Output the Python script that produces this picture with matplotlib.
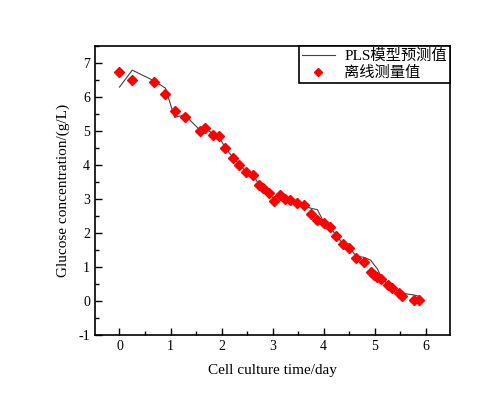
import matplotlib
matplotlib.use('Agg')
import matplotlib.pyplot as plt
from matplotlib.ticker import MultipleLocator

plt.rcParams['font.family'] = ['Liberation Serif', 'Noto Sans CJK SC']
plt.rcParams['axes.unicode_minus'] = False

# tiempos de muestreo (dia)
tiempo = [0, 0.25, 0.67, 0.9, 1.08, 1.28, 1.58, 1.68, 1.83, 1.95, 2.07, 2.22,
          2.35, 2.48, 2.62, 2.73, 2.82, 2.93, 3.03, 3.14, 3.24, 3.35, 3.48, 3.61,
          3.76, 3.88, 4.01, 4.13, 4.25, 4.38, 4.50, 4.64, 4.79, 4.93, 4.98, 5.05,
          5.13, 5.26, 5.34, 5.48, 5.53, 5.77, 5.88]

# valores medidos fuera de linea (g/L)
medido = [6.74, 6.50, 6.44, 6.09, 5.59, 5.40, 4.99, 5.10, 4.89, 4.85, 4.50, 4.21,
          4.01, 3.79, 3.71, 3.41, 3.31, 3.18, 2.93, 3.10, 3.01, 2.96, 2.88, 2.82,
          2.56, 2.39, 2.28, 2.16, 1.91, 1.66, 1.56, 1.27, 1.13, 0.84, 0.77, 0.69,
          0.64, 0.46, 0.37, 0.24, 0.14, 0.02, 0.02]

# prediccion del modelo PLS
pls = [6.29, 6.79, 6.48, 6.26, 5.40, 5.47, 5.02, 5.08, 4.92, 4.82, 4.52, 4.22,
       4.02, 3.80, 3.70, 3.43, 3.33, 3.15, 3.00, 3.22, 3.13, 2.98, 2.88, 2.80,
       2.72, 2.68, 2.30, 2.15, 1.93, 1.67, 1.58, 1.31, 1.28, 1.19, 1.08, 0.95,
       0.72, 0.47, 0.38, 0.24, 0.22, 0.17, 0.13]

fig = plt.figure(figsize=(4.88, 3.96), dpi=100)
ax = fig.add_axes([0.1947, 0.1548, 0.7275, 0.729])

ax.plot(tiempo, pls, '-', color='#404040', lw=0.8, label='PLS模型预测值')
ax.plot(tiempo, medido, 'D', color='#ff0000', ms=5.5, mec='#ff0000',
        linestyle='none', label='离线测量值')

ax.set_xlim(-0.48, 6.48)
ax.set_ylim(-1, 7.5)
ax.xaxis.set_major_locator(MultipleLocator(1))
ax.xaxis.set_minor_locator(MultipleLocator(0.5))
ax.yaxis.set_major_locator(MultipleLocator(1))
ax.yaxis.set_minor_locator(MultipleLocator(0.5))
ax.tick_params(which='both', direction='in', top=False, right=False, labelsize=10)
ax.tick_params(which='major', length=5, width=1)
ax.tick_params(which='minor', length=3, width=1)
for s in ax.spines.values():
    s.set_linewidth(1.2)

ax.set_xlabel('Cell culture time/day', fontsize=11, labelpad=8)
ax.set_ylabel('Glucose concentration/(g/L)', fontsize=11, labelpad=6)

leg = ax.legend(loc='upper right', borderaxespad=0, fancybox=False,
                edgecolor='black', framealpha=1, fontsize=11, handlelength=2.2,
                borderpad=0.2, labelspacing=0.2, handletextpad=0.6, markerscale=0.8)
leg.get_frame().set_linewidth(1.2)

fig.savefig('out.png', dpi=100)
